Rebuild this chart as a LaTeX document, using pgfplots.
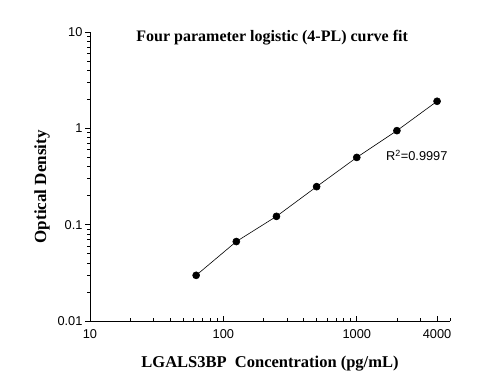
\documentclass[border=0pt]{standalone}
\usepackage{pgfplots}
\pgfplotsset{compat=1.18}
\usepackage{fontspec}
\setmainfont{Liberation Serif}
\newfontfamily\arial{Liberation Sans}
\begin{document}
\begin{tikzpicture}
\useasboundingbox (-90pt,-67pt) rectangle (392pt,321pt);
\begin{axis}[
  at={(0,0)}, anchor=south west,
  scale only axis, width=360pt, height=289pt,
  xmode=log, ymode=log,
  xmin=10, xmax=5000, ymin=0.01, ymax=10,
  axis x line*=bottom, axis y line*=left,
  axis line style={line width=0.8pt, -},
  xtick={10,100,1000,4000}, xticklabels={10,100,1000,4000},
  ytick={0.01,0.1,1,10}, yticklabels={0.01,0.1,1,10},
  minor xtick={20,30,40,50,60,70,80,90,200,300,400,500,600,700,800,900,2000,3000,5000},
  minor ytick={0.02,0.03,0.04,0.05,0.06,0.07,0.08,0.09,0.2,0.3,0.4,0.5,0.6,0.7,0.8,0.9,2,3,4,5,6,7,8,9},
  xtick align=inside, ytick align=outside,
  major tick length=5pt, minor tick length=3pt,
  tick style={black, line width=0.7pt},
  tick label style={font=\arial\fontsize{12.8}{14}\selectfont},
  xticklabel style={yshift=-5pt},
  yticklabel style={xshift=1pt},
  xlabel={\textbf{LGALS3BP\ \ Concentration (pg/mL)}},
  ylabel={\textbf{Optical Density}},
  xlabel style={font=\fontsize{16.5}{18}\selectfont, at={(axis description cs:0.5,-0.148)}, anchor=center},
  ylabel style={font=\fontsize{17}{19}\selectfont, at={(axis description cs:-0.133,0.464)}, anchor=center},
  clip=false,
]
\addplot[black, line width=0.6pt, mark=*, mark size=3.5pt, mark options={fill=black}] coordinates {
  (62.5,0.0298) (125,0.0668) (250,0.122) (500,0.248) (1000,0.499) (2000,0.946) (4000,1.91)
};
\node[font=\bfseries\fontsize{16}{18}\selectfont, anchor=center] at (rel axis cs:0.506,0.981) {Four parameter logistic (4-PL) curve fit};
\node[font=\arial\fontsize{12.8}{14}\selectfont, anchor=west, inner sep=0pt] at (rel axis cs:0.822,0.572) {R\textsuperscript{2}=0.9997};
\end{axis}
\end{tikzpicture}
\end{document}
